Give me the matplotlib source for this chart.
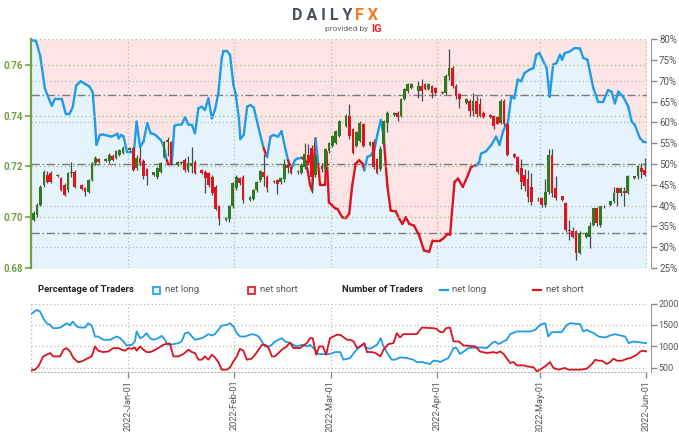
import datetime as dt
import numpy as np
import pandas as pd
import matplotlib
matplotlib.use("Agg")
import matplotlib.pyplot as plt
import matplotlib.dates as mdates
from matplotlib.collections import LineCollection
from matplotlib.patches import Rectangle
from matplotlib.lines import Line2D

plt.rcParams["font.family"] = ["Roboto", "DejaVu Sans"]

# daily candles, Sunday to Friday sessions
candle_dates = [d for d in pd.date_range("2021-12-05", "2022-06-01") if d.weekday() != 5]
opens = [
    0.6990, 0.7009, 0.7049, 0.7128, 0.7167, 0.7173,
    0.7164, 0.7153, 0.7127, 0.7107, 0.7173, 0.7180,
    0.7127, 0.7114, 0.7101, 0.7147, 0.7213, 0.7229,
    0.7220, 0.7220, 0.7242, 0.7233, 0.7246, 0.7253,
    0.7265, 0.7272, 0.7193, 0.7235, 0.7222, 0.7189,
    0.7167, 0.7160, 0.7180, 0.7239, 0.7298, 0.7298,
    0.7206, 0.7212, 0.7226, 0.7186, 0.7200, 0.7219,
    0.7186, 0.7180, 0.7173, 0.7160, 0.7121, 0.7045,
    0.6990, 0.6995, 0.7043, 0.7115, 0.7153, 0.7160,
    0.7068, 0.7070, 0.7107, 0.7147, 0.7180, 0.7160,
    0.7143, 0.7147, 0.7137, 0.7150, 0.7205, 0.7196,
    0.7178, 0.7176, 0.7196, 0.7245, 0.7272, 0.7165,
    0.7200, 0.7189, 0.7261, 0.7281, 0.7294, 0.7320,
    0.7360, 0.7400, 0.7347, 0.7281, 0.7300, 0.7366,
    0.7284, 0.7297, 0.7229, 0.7190, 0.7288, 0.7373,
    0.7402, 0.7412, 0.7399, 0.7465, 0.7497, 0.7510,
    0.7497, 0.7517, 0.7524, 0.7504, 0.7517, 0.7510,
    0.7491, 0.7491, 0.7557, 0.7589, 0.7517, 0.7485,
    0.7452, 0.7458, 0.7419, 0.7458, 0.7445, 0.7412,
    0.7402, 0.7399, 0.7393, 0.7373, 0.7458, 0.7366,
    0.7249, 0.7236, 0.7195, 0.7165, 0.7150, 0.7120,
    0.7070, 0.7076, 0.7049, 0.7100, 0.7246, 0.7115,
    0.7082, 0.7056, 0.6951, 0.6944, 0.6944, 0.6859,
    0.6924, 0.6924, 0.6970, 0.7036, 0.6970, 0.7045,
    0.7049, 0.7062, 0.7115, 0.7095, 0.7102, 0.7095,
    0.7154, 0.7161, 0.7193, 0.7187,
]
highs = [
    0.7025, 0.7058, 0.7128, 0.7185, 0.7183, 0.7182,
    0.7170, 0.7160, 0.7135, 0.7178, 0.7219, 0.7185,
    0.7132, 0.7118, 0.7152, 0.7217, 0.7240, 0.7235,
    0.7232, 0.7252, 0.7248, 0.7264, 0.7270, 0.7280,
    0.7276, 0.7278, 0.7245, 0.7275, 0.7228, 0.7195,
    0.7172, 0.7198, 0.7218, 0.7302, 0.7315, 0.7302,
    0.7222, 0.7220, 0.7232, 0.7240, 0.7278, 0.7225,
    0.7190, 0.7186, 0.7180, 0.7168, 0.7128, 0.7050,
    0.7000, 0.7050, 0.7140, 0.7165, 0.7160, 0.7165,
    0.7082, 0.7112, 0.7143, 0.7185, 0.7248, 0.7165,
    0.7146, 0.7152, 0.7160, 0.7229, 0.7228, 0.7200,
    0.7186, 0.7212, 0.7294, 0.7290, 0.7285, 0.7248,
    0.7215, 0.7272, 0.7298, 0.7325, 0.7345, 0.7385,
    0.7405, 0.7445, 0.7352, 0.7338, 0.7380, 0.7372,
    0.7300, 0.7307, 0.7235, 0.7281, 0.7385, 0.7420,
    0.7415, 0.7418, 0.7470, 0.7508, 0.7530, 0.7530,
    0.7537, 0.7543, 0.7530, 0.7528, 0.7522, 0.7515,
    0.7498, 0.7565, 0.7662, 0.7595, 0.7525, 0.7490,
    0.7468, 0.7465, 0.7491, 0.7478, 0.7471, 0.7418,
    0.7405, 0.7402, 0.7400, 0.7465, 0.7465, 0.7370,
    0.7252, 0.7240, 0.7229, 0.7189, 0.7185, 0.7175,
    0.7078, 0.7080, 0.7150, 0.7270, 0.7270, 0.7161,
    0.7085, 0.7060, 0.6990, 0.6960, 0.6950, 0.6945,
    0.6940, 0.6980, 0.7036, 0.7040, 0.7045, 0.7050,
    0.7065, 0.7121, 0.7121, 0.7120, 0.7121, 0.7165,
    0.7163, 0.7205, 0.7213, 0.7233,
]
lows = [
    0.6985, 0.7002, 0.7043, 0.7118, 0.7136, 0.7133,
    0.7160, 0.7102, 0.7083, 0.7100, 0.7160, 0.7116,
    0.7108, 0.7085, 0.7097, 0.7143, 0.7205, 0.7212,
    0.7216, 0.7215, 0.7220, 0.7228, 0.7240, 0.7248,
    0.7262, 0.7183, 0.7188, 0.7205, 0.7150, 0.7128,
    0.7162, 0.7150, 0.7175, 0.7232, 0.7240, 0.7206,
    0.7203, 0.7208, 0.7180, 0.7180, 0.7173, 0.7170,
    0.7170, 0.7097, 0.7120, 0.7088, 0.7028, 0.6968,
    0.6985, 0.6980, 0.7035, 0.7108, 0.7128, 0.7055,
    0.7063, 0.7066, 0.7100, 0.7140, 0.7124, 0.7100,
    0.7136, 0.7091, 0.7132, 0.7140, 0.7175, 0.7172,
    0.7172, 0.7170, 0.7190, 0.7210, 0.7094, 0.7160,
    0.7180, 0.7180, 0.7252, 0.7275, 0.7288, 0.7315,
    0.7355, 0.7307, 0.7248, 0.7275, 0.7295, 0.7275,
    0.7280, 0.7190, 0.7170, 0.7183, 0.7283, 0.7334,
    0.7398, 0.7380, 0.7395, 0.7460, 0.7490, 0.7505,
    0.7471, 0.7458, 0.7500, 0.7500, 0.7471, 0.7485,
    0.7485, 0.7485, 0.7540, 0.7510, 0.7465, 0.7432,
    0.7448, 0.7399, 0.7400, 0.7393, 0.7393, 0.7390,
    0.7390, 0.7347, 0.7366, 0.7366, 0.7360, 0.7240,
    0.7232, 0.7170, 0.7110, 0.7104, 0.7060, 0.7050,
    0.7065, 0.7040, 0.7040, 0.7090, 0.7080, 0.7069,
    0.7065, 0.6940, 0.6911, 0.6920, 0.6833, 0.6855,
    0.6920, 0.6878, 0.6965, 0.6964, 0.6960, 0.7038,
    0.7045, 0.7055, 0.7043, 0.7085, 0.7043, 0.7090,
    0.7150, 0.7150, 0.7154, 0.7161,
]
closes = [
    0.7018, 0.7049, 0.7121, 0.7180, 0.7140, 0.7137,
    0.7167, 0.7107, 0.7088, 0.7173, 0.7180, 0.7121,
    0.7112, 0.7101, 0.7147, 0.7213, 0.7233, 0.7217,
    0.7229, 0.7246, 0.7226, 0.7259, 0.7265, 0.7272,
    0.7272, 0.7186, 0.7235, 0.7213, 0.7163, 0.7163,
    0.7180, 0.7193, 0.7213, 0.7298, 0.7305, 0.7212,
    0.7219, 0.7219, 0.7186, 0.7212, 0.7215, 0.7173,
    0.7173, 0.7153, 0.7127, 0.7095, 0.7032, 0.6995,
    0.6997, 0.7045, 0.7135, 0.7160, 0.7133, 0.7068,
    0.7078, 0.7107, 0.7140, 0.7182, 0.7160, 0.7115,
    0.7137, 0.7130, 0.7156, 0.7209, 0.7195, 0.7176,
    0.7183, 0.7205, 0.7248, 0.7215, 0.7160, 0.7242,
    0.7190, 0.7268, 0.7294, 0.7320, 0.7340, 0.7380,
    0.7400, 0.7320, 0.7255, 0.7334, 0.7373, 0.7281,
    0.7297, 0.7196, 0.7176, 0.7268, 0.7380, 0.7412,
    0.7412, 0.7393, 0.7465, 0.7504, 0.7524, 0.7524,
    0.7517, 0.7497, 0.7504, 0.7524, 0.7491, 0.7491,
    0.7495, 0.7557, 0.7589, 0.7517, 0.7478, 0.7465,
    0.7465, 0.7419, 0.7458, 0.7406, 0.7399, 0.7393,
    0.7393, 0.7360, 0.7366, 0.7458, 0.7366, 0.7245,
    0.7236, 0.7177, 0.7137, 0.7125, 0.7080, 0.7060,
    0.7073, 0.7049, 0.7100, 0.7246, 0.7095, 0.7076,
    0.7069, 0.6951, 0.6944, 0.6924, 0.6859, 0.6938,
    0.6938, 0.6964, 0.7036, 0.6977, 0.7043, 0.7043,
    0.7062, 0.7095, 0.7095, 0.7115, 0.7095, 0.7161,
    0.7161, 0.7200, 0.7180, 0.7167,
]

# % of traders net long, days counted from 2022-01-01
pct_days = [
    -28.3, -26.8, -25.6, -24.2, -22.2, -21.3, -19.3, -18.1, -17.1, -16.1,
    -15.1, -13.8, -12.2, -11.3, -10.3, -9.7, -9.2, -8.2, -7.3, -5.8,
    -4.9, -3.7, -3.1, -2.7, -2.0, -1.3, -0.3, 1.7, 2.5, 3.5,
    4.5, 5.6, 6.6, 7.6, 8.5, 9.5, 10.3, 11.3, 11.7, 12.7,
    13.5, 14.2, 15.6, 16.6, 17.6, 18.6, 19.5, 20.5, 21.5, 22.4,
    23.4, 24.4, 25.3, 26.3, 27.3, 27.8, 28.9, 29.7, 30.7, 31.3,
    32.3, 32.7, 33.7, 34.7, 35.6, 36.6, 37.6, 38.5, 39.5, 40.5,
    41.5, 42.4, 43.7, 44.7, 45.7, 46.6, 47.6, 48.6, 49.2, 50.7,
    51.9, 53.0, 53.6, 54.6, 55.4, 55.9, 57.4, 57.8, 58.5, 60.4,
    61.0, 62.4, 63.4, 64.4, 65.3, 66.3, 67.3, 68.3, 68.8, 69.7,
    70.7, 71.7, 72.6, 73.6, 74.4, 75.5, 76.5, 78.0, 79.0, 79.9,
    80.9, 81.9, 83.3, 84.8, 86.2, 87.7, 88.7, 90.9, 91.7, 93.1,
    93.8, 95.1, 96.1, 97.5, 99.0, 99.9, 101.4, 102.3, 102.8, 104.3,
    105.8, 107.2, 108.2, 109.2, 110.1, 110.6, 111.6, 112.5, 113.5, 114.5,
    115.5, 116.9, 118.1, 118.9, 119.8, 121.9, 122.8, 123.8, 124.8, 125.8,
    126.4, 127.2, 128.7, 130.1, 131.6, 132.6, 133.8, 135.5, 136.9, 138.4,
    139.8, 140.8, 141.8, 142.8, 144.2, 145.7, 146.7, 147.6, 149.1, 150.1,
    151.0,
]
pct_long = [
    79.8, 79.6, 76.1, 68.1, 64.0, 65.7, 65.7, 62.0, 62.0, 63.7,
    68.9, 69.9, 69.1, 68.7, 67.3, 61.0, 54.6, 57.0, 57.1, 56.8,
    56.6, 57.0, 57.3, 56.2, 57.0, 56.6, 52.9, 52.8, 60.2, 54.1,
    55.4, 59.8, 57.4, 57.2, 56.6, 55.8, 54.6, 50.9, 49.9, 49.9,
    59.2, 59.4, 59.5, 61.2, 59.5, 59.4, 57.4, 63.4, 63.8, 63.0,
    65.8, 61.0, 63.0, 67.0, 75.5, 77.1, 77.1, 76.3, 69.0, 67.0,
    61.0, 56.0, 57.0, 63.8, 64.2, 63.6, 60.2, 57.0, 53.8, 51.7,
    56.6, 57.0, 56.6, 57.9, 54.1, 50.9, 48.9, 50.9, 51.3, 51.5,
    50.5, 45.0, 43.7, 56.2, 50.0, 45.0, 45.0, 52.9, 40.8, 39.3,
    39.2, 37.2, 37.0, 38.0, 44.9, 50.1, 50.9, 50.1, 48.5, 51.7,
    52.1, 53.3, 57.0, 60.6, 57.0, 44.9, 38.8, 38.6, 36.8, 35.6,
    37.2, 35.6, 35.2, 32.8, 29.2, 28.9, 31.6, 31.6, 32.0, 33.2,
    33.0, 45.7, 46.5, 44.5, 47.3, 49.3, 49.7, 50.5, 52.5, 53.1,
    54.6, 56.6, 54.6, 57.8, 59.4, 59.8, 66.2, 65.8, 70.3, 69.9,
    71.9, 72.7, 73.1, 76.3, 76.7, 73.1, 66.2, 73.9, 74.3, 76.3,
    75.1, 76.7, 77.1, 77.9, 77.8, 75.5, 75.1, 68.3, 65.0, 65.0,
    67.8, 67.4, 64.6, 67.4, 66.2, 63.8, 60.2, 59.4, 56.2, 55.4,
    55.4,
]

# number of traders, days counted from 2022-01-01
long_days = [
    -28.3, -26.6, -25.6, -24.7, -23.7, -22.7, -21.8, -20.8, -19.8, -18.8,
    -17.9, -16.9, -16.1, -14.9, -14.0, -12.5, -11.6, -10.6, -9.6, -8.7,
    -7.2, -5.2, -4.3, -3.3, -2.3, -1.4, -0.4, 1.1, 2.0, 2.5,
    3.5, 4.5, 5.4, 6.4, 7.4, 8.8, 9.8, 10.8, 11.3, 12.2,
    13.2, 14.7, 15.6, 16.6, 17.6, 18.6, 19.5, 21.5, 22.4, 23.4,
    24.4, 25.3, 26.3, 27.3, 28.8, 29.7, 30.7, 31.7, 32.6, 34.1,
    36.0, 37.0, 38.0, 39.0, 39.9, 40.9, 41.9, 42.8, 44.8, 45.7,
    47.2, 49.1, 50.6, 52.1, 53.0, 54.5, 55.4, 58.8, 60.3, 61.8,
    62.7, 64.7, 66.1, 67.6, 68.6, 69.6, 70.5, 72.5, 73.6, 74.4,
    75.8, 76.8, 77.8, 79.2, 81.2, 83.1, 84.1, 85.6, 88.0, 88.9,
    89.9, 90.9, 93.3, 94.8, 95.7, 96.7, 99.1, 102.5, 104.5, 106.0,
    106.9, 107.9, 110.3, 111.3, 113.2, 117.1, 118.6, 120.0, 121.5, 122.4,
    123.4, 126.3, 127.8, 128.8, 131.7, 132.6, 133.6, 135.6, 137.0, 139.0,
    140.4, 141.9, 143.3, 144.8, 145.8, 147.2, 149.2, 150.9,
]
long_count = [
    1748, 1849, 1810, 1655, 1539, 1500, 1423, 1423, 1438, 1485,
    1539, 1485, 1578, 1462, 1438, 1438, 1539, 1485, 1229, 1229,
    1152, 1152, 1190, 1229, 1190, 1113, 1020, 1035, 1113, 1346,
    1190, 1229, 1307, 1190, 1152, 1190, 1245, 1152, 1050, 1035,
    1051, 1074, 1113, 1307, 1323, 1229, 1152, 1190, 1229, 1284,
    1253, 1284, 1384, 1485, 1500, 1539, 1462, 1307, 1229, 1229,
    1284, 1268, 1229, 1113, 996, 996, 1035, 1113, 1190, 1113,
    1074, 996, 1035, 996, 1035, 918, 818, 818, 865, 865,
    687, 725, 880, 996, 1051, 958, 942, 1035, 1190, 996,
    803, 687, 687, 741, 725, 687, 632, 632, 586, 663,
    663, 632, 726, 958, 958, 818, 958, 973, 958, 1074,
    1113, 1051, 1152, 1284, 1346, 1346, 1384, 1500, 1539, 1229,
    1330, 1330, 1500, 1539, 1516, 1346, 1384, 1307, 1229, 1206,
    1253, 1284, 1253, 1229, 1074, 1113, 1090, 1074,
]
short_days = [
    -28.3, -27.1, -26.1, -24.7, -23.7, -22.7, -21.8, -19.8, -18.8, -17.9,
    -16.9, -15.9, -14.5, -13.0, -12.0, -10.6, -9.6, -8.7, -7.2, -5.7,
    -4.3, -2.8, -1.8, -0.9, 0.1, 1.1, 2.0, 2.5, 3.5, 4.5,
    5.4, 6.4, 7.4, 8.8, 10.3, 11.3, 12.2, 13.2, 14.7, 16.1,
    17.6, 18.6, 19.5, 20.5, 21.5, 22.4, 23.4, 24.4, 25.3, 26.3,
    27.3, 28.8, 29.7, 30.7, 31.7, 32.6, 33.6, 34.6, 36.0, 37.0,
    38.0, 39.0, 39.9, 40.9, 41.9, 42.8, 44.8, 46.2, 47.2, 48.2,
    50.1, 51.1, 52.1, 53.0, 53.8, 54.8, 55.7, 56.7, 57.7, 58.8,
    59.8, 60.8, 61.8, 63.8, 64.7, 65.7, 66.7, 67.6, 68.8, 69.6,
    71.1, 72.1, 73.5, 74.4, 75.8, 77.3, 78.3, 79.2, 80.2, 84.1,
    85.6, 88.9, 89.9, 90.9, 91.8, 92.6, 93.8, 94.8, 96.3, 97.7,
    101.2, 102.5, 104.5, 106.4, 107.4, 108.4, 109.4, 111.3, 112.3, 113.2,
    115.2, 116.2, 118.1, 119.1, 120.0, 121.5, 122.9, 123.9, 125.4, 126.3,
    127.3, 128.2, 131.7, 133.6, 135.1, 136.1, 137.0, 138.0, 139.5, 140.4,
    141.4, 142.4, 143.9, 145.3, 146.3, 147.3, 148.2, 149.2, 150.2, 150.9,
]
short_count = [
    439, 454, 532, 764, 803, 842, 764, 764, 919, 958,
    880, 725, 625, 663, 710, 764, 997, 896, 865, 880,
    958, 958, 919, 896, 958, 942, 973, 896, 997, 919,
    865, 865, 896, 958, 1035, 1060, 1066, 764, 764, 818,
    919, 865, 842, 687, 687, 764, 687, 803, 741, 632,
    454, 454, 508, 648, 764, 942, 896, 687, 710, 803,
    919, 1035, 1035, 973, 764, 764, 919, 997, 1090, 958,
    958, 1020, 1074, 1190, 1190, 803, 997, 997, 803, 1190,
    1229, 1268, 1268, 1152, 1152, 1113, 958, 997, 1074, 865,
    865, 842, 764, 919, 1051, 1074, 1307, 1206, 1284, 1284,
    1438, 1423, 1407, 1330, 1330, 1423, 1438, 1113, 1113, 1020,
    996, 880, 842, 865, 842, 880, 818, 609, 632, 555,
    555, 532, 508, 415, 454, 532, 632, 493, 454, 477,
    493, 454, 454, 477, 585, 687, 663, 663, 586, 632,
    710, 663, 663, 710, 726, 764, 803, 880, 896, 880,
]

month_ticks = ["2022-01-01", "2022-02-01", "2022-03-01", "2022-04-01", "2022-05-01", "2022-06-01"]
price_ticks = [0.68, 0.70, 0.72, 0.74, 0.76]
pct_ticks = list(range(25, 81, 5))
count_ticks = [500, 1000, 1500, 2000]
ratio_levels = [100 / 3, 50, 200 / 3]

BLUE = "#1f9be8"
RED = "#d9141f"
GREEN_BODY = "#2f7a1f"
RED_BODY = "#e0141c"
WICK = "#4a4a4a"
PINK_FILL = "#fde5e6"
BLUE_FILL = "#e5f3fc"
AX_GREEN = "#6ea243"
GRID_GREEN = "#a5c98a"
GRID_GRAY = "#b9b9b9"
TXT_GRAY = "#555555"

base = mdates.date2num(dt.datetime(2022, 1, 1))
x_left = base - 28.26
x_right = base + 151.0
months = [mdates.date2num(pd.Timestamp(m)) for m in month_ticks]

fig = plt.figure(figsize=(6.79, 4.32), dpi=100)

# ---------------- top panel ----------------
ax = fig.add_axes([31 / 679, 1 - 268 / 432, 615.5 / 679, 228.7 / 432])
ax2 = ax.twinx()  # price axis, drawn above the sentiment fill
ax.set_xlim(x_left, x_right)
ax.set_ylim(25, 80)

px = base + np.array(pct_days)
py = np.array(pct_long)
ax.fill_between(px, py, 80, color=PINK_FILL, lw=0, zorder=0)
ax.fill_between(px, 25, py, color=BLUE_FILL, lw=0, zorder=0)

for v in pct_ticks:
    if v % 10 == 0 and v not in (50, 80):
        ax.axhline(v, color=GRID_GRAY, lw=0.9, ls=(0, (1, 2)), zorder=1)
for v in ratio_levels:
    ax.axhline(v, color="#7a7a7a", lw=1.0, ls=(0, (6, 2, 1, 2)), zorder=1)
for m in months[:-1]:
    ax.axvline(m, color=GRID_GRAY, lw=0.9, ls=(0, (1, 2)), zorder=1)
ax.axhline(80, color=GRID_GRAY, lw=1.0, ls=(0, (1, 2)), zorder=1)
ax.axvline(x_right, color=GRID_GRAY, lw=1.0, ls=(0, (1, 2)), zorder=1)

# line colour follows which side holds more traders
mid = (px[:-1] + px[1:]) / 2
lmid = np.interp(mid, base + np.array(long_days), long_count)
smid = np.interp(mid, base + np.array(short_days), short_count)
seg_colors = [BLUE if a >= b else RED for a, b in zip(lmid, smid)]
pts = np.column_stack([px, py])
segs = np.stack([pts[:-1], pts[1:]], axis=1)
ax.add_collection(LineCollection(segs, colors=seg_colors, linewidths=1.7,
                                 capstyle="round", joinstyle="round", zorder=3))

ax.yaxis.tick_right()
ax.yaxis.set_label_position("right")
ax.set_yticks(pct_ticks)
ax.set_yticklabels([f"{v}%" for v in pct_ticks])
ax.tick_params(axis="y", colors="#888888", labelcolor=TXT_GRAY, labelsize=7,
               length=4, width=1, direction="out", pad=2)
ax.set_xticks([])
for s in ("top", "bottom", "left"):
    ax.spines[s].set_visible(False)
ax.spines["right"].set_color("#999999")
ax.spines["right"].set_position(("outward", 3))

ax2.set_xlim(x_left, x_right)
ax2.set_ylim(0.68, 0.7701)
ax2.yaxis.tick_left()
ax2.yaxis.set_label_position("left")
for v in price_ticks:
    ax2.axhline(v, color=GRID_GREEN, lw=1.0, ls=(0, (1, 2)), zorder=1)

cx = np.array([mdates.date2num(d) for d in candle_dates]) - 0.5
o = np.array(opens)
c = np.array(closes)
up = c >= o
body_col = np.where(up, GREEN_BODY, RED_BODY)
ax2.vlines(cx, lows, highs, color=WICK, lw=0.9, zorder=4)
ax2.bar(cx, np.maximum(np.abs(c - o), 0.00025), bottom=np.minimum(o, c),
        width=0.8, color=body_col, lw=0, zorder=5)

ax2.set_yticks(price_ticks)
ax2.set_yticklabels([f"{v:.2f}" for v in price_ticks])
ax2.tick_params(axis="y", colors=AX_GREEN, labelcolor=AX_GREEN, labelsize=7,
                length=4, width=1.2, direction="out", pad=2)
for lab in ax2.get_yticklabels():
    lab.set_fontweight("bold")
for s in ("top", "bottom", "right"):
    ax2.spines[s].set_visible(False)
ax2.spines["left"].set_color(AX_GREEN)
ax2.spines["left"].set_linewidth(1.6)
ax2.set_xticks([])

# ---------------- bottom panel ----------------
ax3 = fig.add_axes([31 / 679, 1 - 371.5 / 432, 615.5 / 679, 68 / 432])
ax3.set_xlim(x_left, x_right)
ax3.set_ylim(411, 2000)
for v in count_ticks:
    ax3.axhline(v, color=GRID_GRAY, lw=0.9, ls=(0, (1, 2)), zorder=1)
for m in months[:-1]:
    ax3.axvline(m, color=GRID_GRAY, lw=0.9, ls=(0, (1, 2)), zorder=1)
ax3.axvline(x_left, color=GRID_GRAY, lw=1.0, ls=(0, (1, 2)), zorder=1)

ax3.plot(base + np.array(long_days), long_count, color=BLUE, lw=1.3, zorder=3)
ax3.plot(base + np.array(short_days), short_count, color=RED, lw=1.3, zorder=3)

ax3.yaxis.tick_right()
ax3.set_yticks(count_ticks)
ax3.tick_params(axis="y", colors="#888888", labelcolor=TXT_GRAY, labelsize=6.5,
                length=4, width=1, direction="out", pad=1.5)
ax3.set_xticks(months)
ax3.xaxis.set_major_formatter(mdates.DateFormatter("%Y-%b-%d"))
ax3.tick_params(axis="x", colors="#888888", labelcolor=TXT_GRAY, labelsize=6.6,
                length=4, width=1, direction="out", rotation=90, pad=2)
for s in ("top", "left"):
    ax3.spines[s].set_visible(False)
ax3.spines["bottom"].set_color(GRID_GRAY)
ax3.spines["bottom"].set_linestyle((0, (1, 2)))
ax3.spines["right"].set_color("#999999")
ax3.spines["right"].set_position(("outward", 3))

# ---------------- legend row ----------------
ly = 1 - 290 / 432
fig.text(38 / 679, ly, "Percentage of Traders", fontsize=6.8, fontweight="bold",
         color="#222222", va="center")
fig.add_artist(Rectangle((153 / 679, ly - 3.5 / 432), 7 / 679, 7 / 432,
                         transform=fig.transFigure, facecolor=BLUE_FILL,
                         edgecolor=BLUE, lw=1.2))
fig.text(165 / 679, ly, "net long", fontsize=6.8, color=TXT_GRAY, va="center")
fig.add_artist(Rectangle((248 / 679, ly - 3.5 / 432), 7 / 679, 7 / 432,
                         transform=fig.transFigure, facecolor=PINK_FILL,
                         edgecolor=RED, lw=1.2))
fig.text(260 / 679, ly, "net short", fontsize=6.8, color=TXT_GRAY, va="center")
fig.text(342 / 679, ly, "Number of Traders", fontsize=6.8, fontweight="bold",
         color="#222222", va="center")
fig.add_artist(Line2D([440 / 679, 448 / 679], [ly, ly], transform=fig.transFigure,
                      color=BLUE, lw=1.6))
fig.text(452 / 679, ly, "net long", fontsize=6.8, color=TXT_GRAY, va="center")
fig.add_artist(Line2D([533 / 679, 541 / 679], [ly, ly], transform=fig.transFigure,
                      color=RED, lw=1.6))
fig.text(546 / 679, ly, "net short", fontsize=6.8, color=TXT_GRAY, va="center")

# ---------------- logo ----------------
fig.text(352 / 679, 1 - 15 / 432, "D A I L Y", fontsize=11.5, fontweight="bold",
         color="#4a525c", ha="right", va="center")
fig.text(355 / 679, 1 - 15 / 432, "F X", fontsize=11.5, fontweight="bold",
         color="#f47c20", ha="left", va="center")
fig.text(368 / 679, 1 - 29.5 / 432, "provided by", fontsize=6, color="#666666",
         ha="right", va="center")
fig.text(371 / 679, 1 - 29.5 / 432, "IG", fontsize=8, fontweight="bold",
         color="#e3262c", ha="left", va="center")

fig.savefig("out.png", dpi=100)
